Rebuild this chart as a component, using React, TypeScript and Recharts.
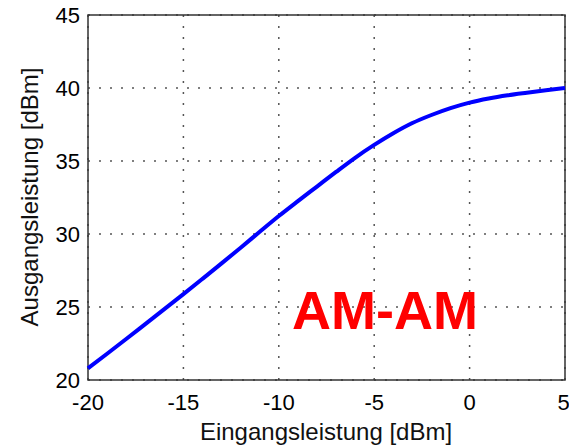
import React from 'react'
import { LineChart, Line, XAxis, YAxis, CartesianGrid, ReferenceArea } from 'recharts'

// input power (dBm) and measured output power (dBm)
const inputPower = [-20, -19, -18, -17, -16, -15, -14, -13, -12, -11, -10, -9, -8, -7, -6, -5, -4, -3, -2, -1, 0, 1, 2, 3, 4, 5]
const outputPower = [20.8, 21.8, 22.81, 23.83, 24.85, 25.88, 26.93, 27.99, 29.06, 30.15, 31.23, 32.25, 33.25, 34.25, 35.22, 36.1, 36.9, 37.6, 38.15, 38.62, 39.0, 39.28, 39.5, 39.68, 39.85, 40.0]

const xTicks = [-20, -15, -10, -5, 0, 5]
const yTicks = [20, 25, 30, 35, 40, 45]

const data = inputPower.map((x, i) => ({ pin: x, pout: outputPower[i] }))

const FONT = '"Liberation Sans", Arial, sans-serif'

export default function App() {
  return (
    <div style={{ position: 'absolute', left: 0, top: 0, width: 569, height: 446, background: '#fff', fontFamily: FONT }}>
      <LineChart width={569} height={446} data={data} margin={{ top: 15, right: 4, left: 0, bottom: 0 }}>
        <CartesianGrid stroke="#555" strokeDasharray="2 9" strokeWidth={1.5} />
        <XAxis
          dataKey="pin"
          type="number"
          domain={[-20, 5]}
          ticks={xTicks}
          height={66}
          axisLine={false}
          tickLine={false}
          tickSize={0}
          tickMargin={14}
          tick={{ fill: '#000', fontSize: 22, fontFamily: FONT }}
        />
        <YAxis
          type="number"
          domain={[20, 45]}
          ticks={yTicks}
          width={88}
          axisLine={false}
          tickLine={false}
          tickSize={0}
          tickMargin={8}
          tick={{ fill: '#000', fontSize: 22, fontFamily: FONT }}
        />
        {/* plot frame */}
        <ReferenceArea x1={-20} x2={5} y1={20} y2={45} fill="none" stroke="#333" strokeWidth={1.5} ifOverflow="visible" />
        <Line
          type="monotone"
          dataKey="pout"
          stroke="#0000ff"
          strokeWidth={4}
          dot={false}
          isAnimationActive={false}
        />
      </LineChart>
      <div style={{ position: 'absolute', left: 326, top: 440, transform: 'translate(-50%, -80%)', fontSize: 24, whiteSpace: 'nowrap', color: '#111' }}>
        Eingangsleistung [dBm]
      </div>
      <div style={{ position: 'absolute', left: 30, top: 197, transform: 'translate(-50%, -50%) rotate(-90deg)', fontSize: 24, whiteSpace: 'nowrap', color: '#111' }}>
        Ausgangsleistung [dBm]
      </div>
      <div style={{ position: 'absolute', left: 292, top: 283, fontSize: 54, fontWeight: 'bold', color: '#ff0000', lineHeight: 1, whiteSpace: 'nowrap' }}>
        AM-AM
      </div>
    </div>
  )
}
